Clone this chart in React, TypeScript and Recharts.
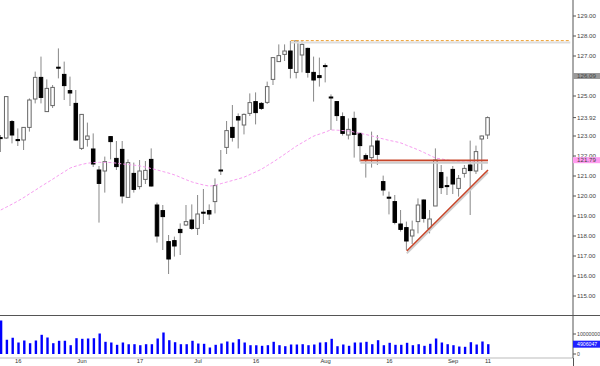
import React from 'react';
import { ComposedChart, Bar, Line, XAxis, YAxis, ReferenceLine } from 'recharts';

// daily prices
const opens = [
  122.92, 122.9, 123.72, 122.82, 122.8, 123.43, 124.85, 125.93, 124.22, 124.52,
  126.44, 126.08, 125.27, 124.63, 122.38, 122.83, 122.35, 121.3, 121.25, 122.97,
  121.88, 122.33, 119.93, 121.13, 120.47, 120.83, 121.83, 119.55, 119.27, 117.72,
  117.77, 118.33, 118.55, 118.8, 118.38, 119.19, 119.27, 119.72, 121.3, 122.43,
  123.43, 123.97, 123.55, 124.13, 124.72, 124.63, 124.68, 125.83, 126.72, 127.08,
  127.25, 126.18, 127.05, 127.38, 126.18, 126.02, 126.52, 124.95, 124.72, 123.97,
  123.05, 123.88, 123.13, 122.02, 121.92, 122.75, 120.72, 119.94, 119.72, 118.6,
  118.42, 118.0, 118.72, 119.8, 118.38, 119.5, 121.17, 120.52, 121.33, 120.38,
  121.13, 121.55, 121.25, 122.85, 123.05,
];
const highs = [
  123.05, 125.0, 123.8, 123.38, 123.45, 124.88, 126.22, 126.97, 125.83, 125.55,
  127.38, 126.72, 125.97, 125.3, 124.1, 123.67, 123.13, 121.5, 121.97, 123.0,
  122.75, 122.75, 121.83, 121.67, 121.8, 121.75, 122.38, 119.67, 119.55, 118.05,
  117.97, 118.63, 119.55, 119.58, 120.05, 120.35, 119.58, 120.88, 122.3, 123.75,
  124.55, 124.13, 124.13, 125.13, 125.18, 124.7, 125.72, 126.92, 127.58, 127.58,
  127.75, 127.8, 127.75, 127.42, 126.97, 126.92, 126.63, 125.08, 124.75, 124.18,
  123.88, 124.22, 123.17, 122.13, 123.22, 123.05, 121.02, 120.22, 120.05, 119.3,
  118.72, 118.77, 119.88, 119.83, 119.3, 122.38, 121.55, 120.97, 121.5, 121.05,
  121.55, 122.77, 122.52, 123.02, 123.98,
];
const lows = [
  122.2, 122.85, 122.63, 122.5, 122.3, 123.22, 124.63, 124.63, 124.2, 124.4,
  125.88, 124.8, 124.5, 122.75, 122.3, 122.47, 121.45, 118.67, 120.17, 121.83,
  121.3, 119.63, 119.9, 120.17, 120.33, 120.6, 120.47, 117.67, 117.3, 116.1,
  116.97, 117.05, 118.5, 118.3, 118.05, 118.6, 118.8, 119.13, 121.05, 122.1,
  122.72, 122.38, 123.08, 124.0, 123.58, 124.3, 124.6, 125.55, 126.72, 126.75,
  125.88, 125.88, 126.18, 125.92, 124.72, 125.47, 125.68, 123.3, 123.75, 123.02,
  122.83, 121.92, 121.72, 120.92, 121.42, 121.55, 120.02, 119.08, 118.58, 118.22,
  117.3, 117.6, 118.13, 118.67, 118.13, 119.5, 120.1, 120.05, 120.1, 119.97,
  120.92, 119.05, 121.1, 121.3, 122.85,
];
const closes = [
  122.88, 124.97, 123.05, 122.78, 123.43, 124.8, 125.93, 124.93, 125.38, 125.43,
  126.4, 125.52, 125.15, 122.8, 124.08, 123.0, 121.6, 120.63, 121.72, 122.72,
  121.47, 120.0, 121.67, 120.33, 121.25, 121.28, 120.5, 118.0, 118.97, 116.85,
  117.5, 118.17, 118.72, 118.38, 119.1, 119.15, 119.1, 120.52, 121.26, 123.27,
  122.93, 123.8, 124.08, 124.67, 124.17, 124.38, 125.47, 126.92, 127.02, 127.25,
  126.38, 127.75, 127.58, 126.18, 125.8, 125.92, 126.48, 124.91, 124.02, 123.13,
  123.33, 123.08, 122.52, 121.8, 122.5, 122.08, 120.3, 119.9, 118.68, 118.33,
  117.75, 118.3, 119.55, 118.88, 118.85, 121.8, 120.42, 120.48, 120.6, 120.88,
  121.38, 121.27, 122.22, 123.0, 123.92,
];
// moving average (pink dashed)
const movingAvg = [
  119.3, 119.45, 119.6, 119.76, 119.93, 120.12, 120.3, 120.49, 120.67, 120.85,
  121.04, 121.22, 121.4, 121.5, 121.58, 121.64, 121.67, 121.68, 121.68, 121.67,
  121.64, 121.6, 121.57, 121.54, 121.5, 121.44, 121.37, 121.3, 121.22, 121.14,
  121.05, 120.93, 120.81, 120.7, 120.62, 120.55, 120.5, 120.54, 120.62, 120.7,
  120.78, 120.86, 120.95, 121.08, 121.21, 121.35, 121.53, 121.71, 121.9, 122.1,
  122.3, 122.5, 122.67, 122.84, 123.0, 123.1, 123.2, 123.3, 123.29, 123.27,
  123.25, 123.19, 123.13, 123.07, 123.0, 122.92, 122.85, 122.78, 122.72, 122.65,
  122.53, 122.42, 122.3, 122.17, 122.03, 121.9, 121.85, 121.8, 121.76, 121.75,
  121.75, 121.75, 121.76, 121.78, 121.79,
];
// volume in millions
const volumesM = [
  16.75, 7.1, 8.1, 5.75, 6.75, 5.4, 6.75, 9.6, 8.25, 5.4,
  6.6, 6.6, 4.4, 7.9, 7.6, 7.75, 7.9, 10.25, 6.1, 5.75,
  4.6, 5.75, 4.9, 4.9, 4.4, 4.9, 4.9, 7.75, 10.75, 6.9,
  5.9, 4.9, 4.9, 6.6, 5.25, 5.1, 3.25, 4.6, 5.25, 6.25,
  5.75, 7.4, 5.75, 4.4, 4.4, 4.1, 4.4, 6.1, 4.4, 3.9,
  4.75, 4.75, 4.9, 4.4, 4.75, 5.75, 5.9, 7.6, 3.9, 4.75,
  4.1, 5.75, 5.75, 6.1, 4.9, 6.9, 4.4, 5.6, 4.6, 4.6,
  5.6, 4.4, 4.9, 4.1, 5.1, 7.75, 5.75, 4.9, 4.4, 3.75,
  3.6, 5.9, 4.75, 6.25, 4.906047,
];

const dateTicks = [3, 14, 24, 34, 44, 56, 67, 78, 84];
const dateLabels = ['16', 'Jun', '17', 'Jul', '16', 'Aug', '16', 'Sep', '11'];

const lastClose = 123.92;
const maLast = 121.79;
const markerLevel = 126;
const markerText = '126.09';
const priceTicks = [115, 116, 117, 118, 119, 120, 121, 122, 123, lastClose, 125, 127, 128, 129, markerLevel, maLast];

const lastVolume = 4906047;
const volumeTicks = [0, 10000000, lastVolume];

// drawn lines: [index, price]
const topLine = [[50, 127.77], [98.2, 127.77]];
const resistance = [[62, 121.78], [84, 121.78]];
const support = [[70, 117.25], [84, 121.3]];

const X_DOMAIN = [-0.138, 98.66];
const FONT = 'Liberation Sans, Arial, sans-serif';

const rows = closes.map((c, i) => ({
  i,
  open: opens[i],
  high: highs[i],
  low: lows[i],
  close: c,
  range: [lows[i], highs[i]],
  ma: movingAvg[i],
  volume: volumesM[i] * 1000000,
}));

const Candle = (props: any) => {
  const { x, y, width, height, payload } = props;
  if (!payload || height == null) return null;
  const { open, close, high, low } = payload;
  const k = height / (high - low || 1);
  const toY = (v: number) => y + (high - v) * k;
  const cx = x + width / 2;
  const up = close > open;
  const top = toY(Math.max(open, close));
  const bodyH = Math.max(1, toY(Math.min(open, close)) - top);
  return (
    <g>
      <line x1={cx} x2={cx} y1={y} y2={y + height} stroke="#888" strokeWidth={1} />
      <rect
        x={cx - 1.75}
        y={top}
        width={3.5}
        height={bodyH}
        fill={up ? '#fff' : '#000'}
        stroke={up ? '#666' : '#000'}
        strokeWidth={1}
      />
    </g>
  );
};

const PriceTick = (props: any) => {
  const { x, y, payload } = props;
  const v = payload.value;
  let bg: string | null = null;
  let label = v.toFixed(2);
  if (v === maLast) bg = '#ff9cf0';
  if (v === markerLevel) {
    bg = '#9a9a9a';
    label = markerText;
  }
  return (
    <g>
      {bg && <rect x={x - 4} y={y - 3} width={28} height={6} fill={bg} />}
      <text x={x} y={y} dy="0.35em" fontSize={6.2} fill="#444" fontFamily={FONT}>
        {label}
      </text>
    </g>
  );
};

const VolumeTick = (props: any) => {
  const { x, y, payload } = props;
  const v = payload.value;
  const hi = v === lastVolume;
  return (
    <g>
      {hi && <rect x={x - 4} y={y - 3.5} width={28} height={7} fill="#2020ff" />}
      <text x={x} y={y} dy="0.35em" fontSize={5.2} fill={hi ? '#fff' : '#444'} fontFamily={FONT}>
        {String(v)}
      </text>
    </g>
  );
};

const seg = (pts: number[][], dy = 0) => pts.map(([x, y]) => ({ x, y: y + dy }));

export default function App() {
  return (
    <div style={{ position: 'fixed', left: 0, top: 0, width: 600, height: 366, background: '#fff', overflow: 'hidden' }}>
      <div style={{ position: 'absolute', left: 0, top: 0 }}>
        <ComposedChart width={600} height={315} data={rows} margin={{ top: 0, right: 0, bottom: 0, left: 0 }}>
          <XAxis type="number" dataKey="i" domain={X_DOMAIN} hide />
          <YAxis
            orientation="right"
            width={27}
            domain={[114.05, 129.8]}
            allowDataOverflow
            ticks={priceTicks}
            interval={0}
            tick={<PriceTick />}
            tickSize={3}
            tickMargin={1}
            axisLine={{ stroke: '#555' }}
            tickLine={{ stroke: '#555' }}
          />
          <Line
            type="monotone"
            dataKey="ma"
            stroke="#f79cf0"
            strokeWidth={1}
            strokeDasharray="3 2"
            dot={false}
            activeDot={false}
            isAnimationActive={false}
          />
          <ReferenceLine segment={seg(topLine, -0.1)} stroke="#ddd" strokeWidth={2} />
          <ReferenceLine segment={seg(topLine)} stroke="#eea033" strokeDasharray="3 2" strokeWidth={1} />
          <ReferenceLine segment={seg(resistance, -0.12)} stroke="#ccc" strokeWidth={2} />
          <ReferenceLine segment={seg(resistance)} stroke="#c8462a" strokeWidth={1.6} />
          <ReferenceLine segment={seg(support, -0.12)} stroke="#ccc" strokeWidth={2} />
          <ReferenceLine segment={seg(support)} stroke="#c8462a" strokeWidth={1.6} />
          <Bar dataKey="range" barSize={5} shape={<Candle />} isAnimationActive={false} />
        </ComposedChart>
      </div>
      <div style={{ position: 'absolute', left: 0, top: 314.5, width: 600, height: 1.5, background: '#555' }} />
      <div style={{ position: 'absolute', left: 0, top: 316 }}>
        <ComposedChart width={600} height={50} data={rows} margin={{ top: 0, right: 0, bottom: 0, left: 0 }}>
          <XAxis
            type="number"
            dataKey="i"
            domain={X_DOMAIN}
            ticks={dateTicks}
            interval={0}
            tickFormatter={(v: number) => dateLabels[dateTicks.indexOf(v)] ?? ''}
            height={8}
            tickLine={false}
            tickSize={0}
            tickMargin={1}
            axisLine={{ stroke: '#bbb' }}
            tick={{ fontSize: 5.8, fill: '#333', fontFamily: FONT }}
          />
          <YAxis
            orientation="right"
            width={27}
            domain={[-2000000, 19000000]}
            allowDataOverflow
            ticks={volumeTicks}
            interval={0}
            tick={<VolumeTick />}
            tickSize={3}
            tickMargin={1}
            axisLine={{ stroke: '#555' }}
            tickLine={{ stroke: '#555' }}
          />
          <Bar dataKey="volume" barSize={2.4} fill="#0000ff" isAnimationActive={false} />
        </ComposedChart>
      </div>
      <div style={{ position: 'absolute', left: 572.5, top: 358, width: 1, height: 8, background: '#555' }} />
    </div>
  );
}
